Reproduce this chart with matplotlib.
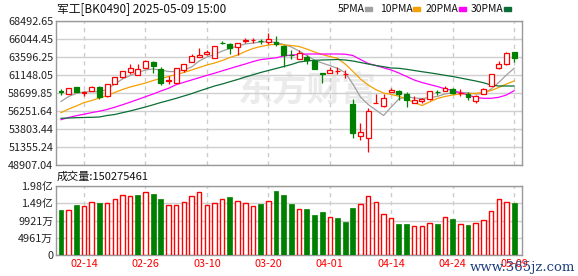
import matplotlib
matplotlib.use('Agg')
import matplotlib.pyplot as plt
from matplotlib.patches import Rectangle

plt.rcParams['font.family'] = ['Noto Sans CJK SC', 'DejaVu Sans']

# trading days shown (2025)
dates = ['02-11', '02-12', '02-13', '02-14', '02-17', '02-18', '02-19', '02-20', '02-21', '02-24',
         '02-25', '02-26', '02-27', '02-28', '03-03', '03-04', '03-05', '03-06', '03-07', '03-10',
         '03-11', '03-12', '03-13', '03-14', '03-17', '03-18', '03-19', '03-20', '03-21', '03-24',
         '03-25', '03-26', '03-27', '03-28', '03-31', '04-01', '04-02', '04-03', '04-07', '04-08',
         '04-09', '04-10', '04-11', '04-14', '04-15', '04-16', '04-17', '04-18', '04-21', '04-22',
         '04-23', '04-24', '04-25', '04-28', '04-29', '04-30', '05-06', '05-07', '05-08', '05-09']

opens = [58972, 58523, 59475, 58659, 59013, 59516, 58224, 59924, 60917, 61556,
         61216, 62168, 62875, 62032, 60291, 60019, 61828, 62957, 63596, 64045,
         63419, 65541, 65364, 64956, 65813, 65881, 65840, 65636, 65636, 65160,
         63936, 63324, 63664, 63093, 61420, 61379, 61651, 61284, 57204, 52919,
         52538, 57299, 56973, 58795, 58972, 58523, 57299, 57652, 57816, 58836,
         59013, 59203, 58659, 58523, 57544, 58564, 59603, 62168, 62603, 64276]
highs = [59203, 59380, 59516, 58904, 59652, 59652, 59883, 60876, 61692, 62603,
         62712, 63188, 63052, 62195, 61080, 62059, 62603, 63964, 64780, 64548,
         65092, 65813, 65568, 65541, 66180, 66248, 66085, 66820, 66493, 65228,
         64548, 64548, 63868, 63188, 61420, 62236, 62277, 61828, 57843, 54619,
         56700, 58564, 58523, 59380, 59108, 58768, 58333, 58061, 58972, 59148,
         59652, 59312, 59176, 58795, 58387, 59339, 61284, 63120, 64235, 64317]
lows = [58428, 58496, 58768, 58251, 59000, 57884, 58197, 59924, 60740, 61284,
        61148, 62168, 61379, 59829, 59924, 60019, 61597, 62957, 63596, 63909,
        63419, 65364, 63963, 63868, 65460, 65568, 65364, 65364, 65092, 62304,
        63392, 63324, 62603, 62032, 60060, 61379, 61317, 60740, 52620, 52307,
        50635, 57272, 56755, 58768, 57808, 56837, 57272, 57396, 57680, 58428,
        58904, 58564, 58224, 57748, 57396, 58564, 59603, 61924, 62549, 62957]
closes = [58795, 59339, 58795, 58877, 59475, 58197, 59883, 60835, 61692, 62100,
          62032, 63011, 62440, 59992, 60427, 62059, 62603, 63759, 63909, 64317,
          65092, 65460, 64861, 65500, 65867, 65935, 65772, 66004, 65364, 63909,
          63868, 64140, 63188, 62032, 61284, 61787, 61760, 61352, 53219, 53396,
          56292, 57367, 57979, 59040, 58608, 57748, 57748, 57884, 58972, 58768,
          59380, 58727, 58754, 58088, 58292, 59203, 61284, 62644, 64099, 63419]

ma5 = [57544, 58224, 58659, 58836, 58877, 58877, 59176, 59924, 60604, 61080,
       61488, 61828, 61964, 61828, 61624, 61597, 61828, 62236, 63052, 63596,
       63936, 64412, 64752, 65092, 65364, 65500, 65636, 65677, 65568, 65296,
       64956, 64412, 63800, 63188, 62780, 62440, 62059, 61488, 59924, 58156,
       57136, 56388, 55640, 56796, 57884, 58224, 58020, 57952, 58088, 58224,
       58564, 58741, 58795, 58727, 58564, 58605, 59244, 60128, 61148, 62059]
ma10 = [56021, 56524, 56932, 57396, 57680, 58020, 58360, 58768, 59176, 59516,
        59788, 60060, 60400, 60672, 60944, 61216, 61488, 61828, 62168, 62508,
        62780, 63120, 63528, 63868, 64344, 64752, 65024, 65228, 65324, 65256,
        65160, 65024, 64684, 64276, 63936, 63664, 63419, 62644, 61651, 60604,
        59788, 59162, 58700, 58496, 58265, 57884, 57408, 57000, 57476, 57952,
        58224, 58428, 58564, 58608, 58659, 58768, 59040, 59448, 59924, 60332]
ma20 = [55068, 55368, 55612, 55817, 56034, 56225, 56456, 56769, 57095, 57449,
        57816, 58197, 58564, 58972, 59339, 59829, 60155, 60468, 60781, 61094,
        61393, 61719, 62032, 62345, 62644, 62971, 63243, 63365, 63487, 63732,
        63868, 63936, 64004, 64004, 64004, 64004, 64004, 63977, 63800, 63256,
        62712, 62440, 62127, 61828, 61420, 60944, 60468, 60128, 59856, 59584,
        59271, 59040, 58741, 58428, 58088, 57979, 57979, 58115, 58428, 59013]
ma30 = [55259, 55300, 55340, 55368, 55395, 55436, 55640, 55776, 56021, 56252,
        56524, 56796, 57095, 57408, 57680, 57979, 58292, 58608, 58972, 59312,
        59652, 59924, 60237, 60536, 60876, 61175, 61488, 61760, 62032, 62304,
        62576, 62916, 63052, 63147, 63188, 63215, 63256, 63188, 63052, 62848,
        62644, 62440, 62277, 62100, 62059, 61924, 61760, 61597, 61447, 61284,
        61107, 60944, 60740, 60536, 60332, 60101, 59788, 59652, 59652, 59652]

volumes = [129.4, 129.4, 143.8, 140.9, 152.4, 150.4, 149.5, 160.1, 171.6, 169.6,
           172.5, 181.1, 175.4, 161.0, 142.8, 142.8, 152.4, 169.6, 181.1, 142.8,
           149.5, 160.1, 166.8, 155.3, 150.4, 140.9, 146.6, 155.3, 184.0, 172.5,
           146.6, 131.3, 131.3, 115.0, 123.6, 108.3, 105.4, 94.9, 135.1, 145.7,
           168.7, 152.4, 116.9, 105.4, 89.1, 89.1, 82.4, 82.4, 91.1, 89.1,
           108.3, 103.5, 88.2, 86.3, 91.1, 100.6, 126.5, 160.1, 152.4, 150.275461]  # million
# 1 = red (up) volume bar, 0 = green
vol_up = [0, 1, 0, 1, 1, 0, 1, 1, 1, 1, 0, 1, 0, 0, 1, 1, 1, 1, 1, 1,
          1, 1, 0, 1, 1, 1, 0, 1, 0, 0, 0, 1, 0, 0, 0, 1, 0, 0, 0, 1,
          1, 1, 1, 1, 0, 0, 1, 1, 1, 0, 1, 0, 1, 0, 1, 1, 1, 1, 1, 0]

price_labels = ['48907.04', '51355.24', '53803.44', '56251.64', '58699.85',
                '61148.05', '63596.25', '66044.45', '68492.65']
vol_ticks = [0, 49.61, 99.21, 148.82, 198.43]
vol_labels = ['0', '4961万', '9921万', '1.49亿', '1.98亿']
date_ticks = list(range(3, 60, 8))

title = '军工[BK0490] 2025-05-09 15:00'
vol_title = '成交量:150275461'
ma_names = ['5PMA', '10PMA', '20PMA', '30PMA']
ma_colors = ['#a0a0a0', '#f5a000', '#ff00ff', '#0a6e36']

RED = '#ff0000'
GREEN = '#008000'
W, H = 578, 276

fig = plt.figure(figsize=(W / 100, H / 100), dpi=100)
ax = fig.add_axes([56 / W, 1 - 165 / H, 466 / W, 144 / H])
axv = fig.add_axes([56 / W, 1 - 255 / H, 466 / W, 69 / H])

# candles
for i in range(len(dates)):
    o, h, l, c = opens[i], highs[i], lows[i], closes[i]
    up = c >= o
    col = RED if up else GREEN
    ax.vlines(i, l, h, color=col, lw=0.9, zorder=3)
    body = max(abs(c - o), 20)
    ax.add_patch(Rectangle((i - 0.32, min(o, c)), 0.64, body,
                           facecolor='white' if up else col, edgecolor=col,
                           lw=0.9, zorder=4))

xs = range(len(dates))
for vals, col in zip([ma5, ma10, ma20, ma30], ma_colors):
    ax.plot(xs, vals, color=col, lw=0.9, zorder=2)

# volume bars
for i in range(len(dates)):
    v = volumes[i]
    if vol_up[i]:
        axv.add_patch(Rectangle((i - 0.29, 0), 0.58, v, facecolor='white',
                                edgecolor=RED, lw=1.0, zorder=3))
    else:
        axv.add_patch(Rectangle((i - 0.32, 0), 0.64, v, facecolor=GREEN,
                                edgecolor=GREEN, lw=0.5, zorder=3))

for a in (ax, axv):
    a.set_xlim(-0.65, 60.03)
    for t in date_ticks:
        a.axvline(t, color='#cccccc', ls=(0, (3, 3)), lw=1, zorder=1)
    for s in a.spines.values():
        s.set_color('#999999')
        s.set_linewidth(1)
    a.tick_params(length=0, pad=2, labelsize=7.8, labelcolor='#222222')

price_vals = [float(p) for p in price_labels]
ax.set_ylim(price_vals[0], price_vals[-1])
ax.set_yticks(price_vals)
ax.set_yticklabels(price_labels)
ax.set_xticks([])
ax.grid(axis='y', color='#cfcfcf', lw=1, zorder=0)

axv.set_ylim(0, vol_ticks[-1])
axv.set_yticks(vol_ticks)
axv.set_yticklabels(vol_labels)
axv.grid(axis='y', color='#cfcfcf', lw=1, zorder=0)
axv.set_xticks(date_ticks)
axv.set_xticklabels([dates[t] for t in date_ticks])
axv.tick_params(axis='x', labelcolor=RED, pad=3)

# watermark
ax.text(0.54, 0.52, '东方财富', transform=ax.transAxes, fontsize=25,
        fontweight='bold', color='#ebebeb', ha='center', va='center', zorder=0)

fig.text(57 / W, 1 - 9 / H, title, fontsize=8.5, va='center', color='#111111')
fig.text(57 / W, 1 - 177 / H, vol_title, fontsize=8, va='center', color='#111111')

# legend row
lx = [338, 380, 426, 471]
for x0, name, col in zip(lx, ma_names, ma_colors):
    fig.text(x0 / W, 1 - 9 / H, name, fontsize=7.5, va='center', color='#111111')
    tw = 6.0 * len(name)
    fig.add_artist(Rectangle(((x0 + tw + 3) / W, 1 - 10.5 / H), 7 / W, 3 / H,
                             transform=fig.transFigure, color=col))

fig.text(575 / W, 1 - 268 / H, 'www.365jz.com', fontsize=9.5, family='DejaVu Serif',
         color='#1f3f7f', ha='right', va='center')

fig.savefig('out.png', dpi=100)
